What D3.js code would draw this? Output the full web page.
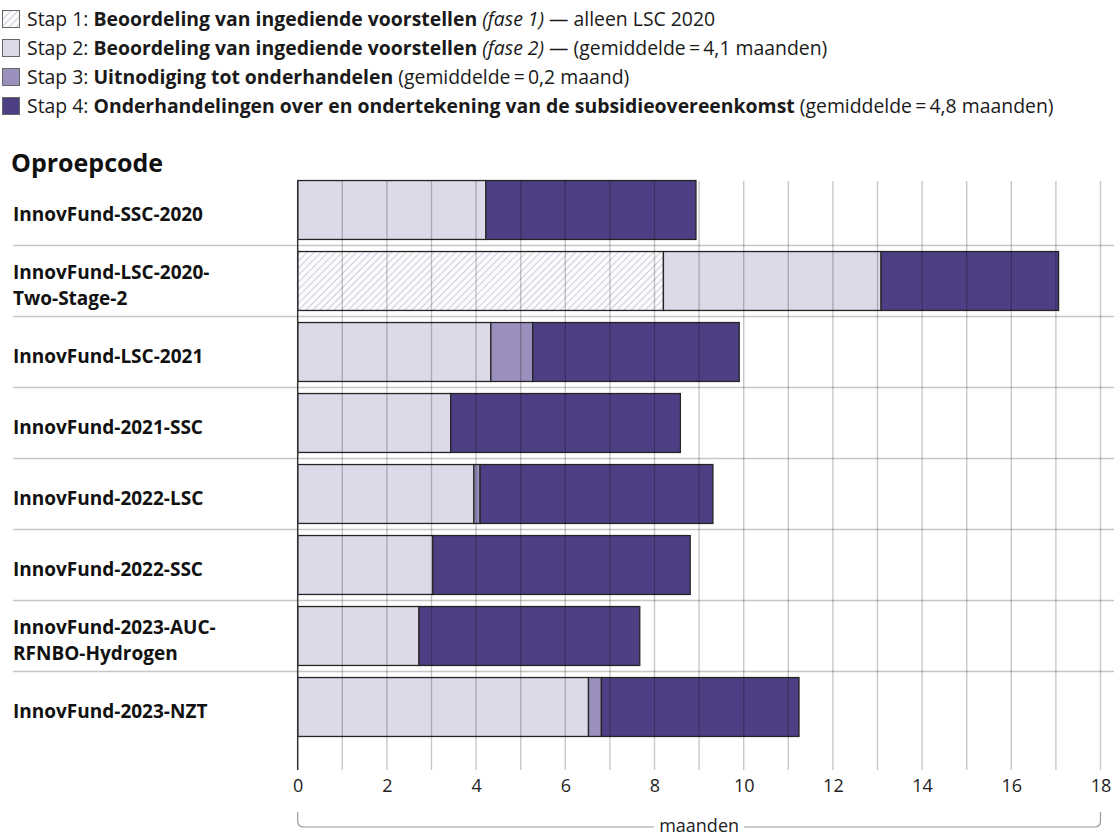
<!DOCTYPE html>
<html>
<head>
<meta charset="utf-8">
<script src="https://cdn.jsdelivr.net/npm/d3@7"></script>
<style>
  body { margin: 0; background: #fff; }
  svg { display: block; font-family: "Open Sans", sans-serif; }
</style>
</head>
<body>
<div id="chart"></div>
<script>
// oproepcodes (rows) and their wrapped labels
const calls = ["SSC-2020", "LSC-2020", "LSC-2021", "2021-SSC", "2022-LSC", "2022-SSC", "2023-AUC", "2023-NZT"];
const callLabels = [
  ["InnovFund-SSC-2020"],
  ["InnovFund-LSC-2020-", "Two-Stage-2"],
  ["InnovFund-LSC-2021"],
  ["InnovFund-2021-SSC"],
  ["InnovFund-2022-LSC"],
  ["InnovFund-2022-SSC"],
  ["InnovFund-2023-AUC-", "RFNBO-Hydrogen"],
  ["InnovFund-2023-NZT"]
];

// months per step
const stap1 = [0, 8.2, 0, 0, 0, 0, 0, 0];
const stap2 = [4.22, 4.88, 4.33, 3.43, 3.95, 3.03, 2.72, 6.52];
const stap3 = [0, 0, 0.94, 0, 0.14, 0, 0, 0.29];
const stap4 = [4.71, 3.98, 4.63, 5.15, 5.22, 5.77, 4.95, 4.43];

const xTicks = [0, 2, 4, 6, 8, 10, 12, 14, 16, 18];
const axisTitle = "maanden";
const rowTitle = "Oproepcode";

const legendItems = [
  [["Stap 1: ", "n"], ["Beoordeling van ingediende voorstellen", "b"], [" ", "n"], ["(fase 1)", "i"], [" \u2014 alleen LSC 2020", "n"]],
  [["Stap 2: ", "n"], ["Beoordeling van ingediende voorstellen", "b"], [" ", "n"], ["(fase 2)", "i"], [" \u2014 (gemiddelde\u2009=\u20094,1 maanden)", "n"]],
  [["Stap 3: ", "n"], ["Uitnodiging tot onderhandelen", "b"], [" (gemiddelde\u2009=\u20090,2 maand)", "n"]],
  [["Stap 4: ", "n"], ["Onderhandelingen over en ondertekening van de subsidieovereenkomst", "b"], [" (gemiddelde\u2009=\u20094,8 maanden)", "n"]]
];

const width = 1114, height = 836;
const keys = ["s1", "s2", "s3", "s4"];
const colors = { s1: "url(#hatch)", s2: "#dcd9e8", s3: "#9a8fbd", s4: "#4e3f84" };

const rows = calls.map((c, i) => ({ call: c, s1: stap1[i], s2: stap2[i], s3: stap3[i], s4: stap4[i] }));

const svg = d3.select("#chart").append("svg")
  .attr("width", width)
  .attr("height", height)
  .attr("viewBox", [0, 0, width, height]);

const defs = svg.append("defs");
const pat = defs.append("pattern")
  .attr("id", "hatch")
  .attr("patternUnits", "userSpaceOnUse")
  .attr("width", 5).attr("height", 5)
  .attr("patternTransform", "rotate(45)");
pat.append("rect").attr("width", 5).attr("height", 5).attr("fill", "#fbfbfd");
pat.append("line").attr("x1", 0).attr("x2", 0).attr("y1", 0).attr("y2", 5)
  .attr("stroke", "#b7b3cc").attr("stroke-width", 1.3);

const x = d3.scaleLinear().domain([0, 18]).range([297.7, 1100.5]);
const y = d3.scaleBand().domain(calls).range([174.5, 742.5]).paddingInner(0.17).paddingOuter(0.085);

const gridTop = 181, gridBottom = 770;

// legend
const legend = svg.append("g").attr("font-size", 19.4).attr("fill", "#1a1a1a");
legendItems.forEach((parts, i) => {
  const cy = 19 + i * 29;
  legend.append("rect")
    .attr("x", 2.5).attr("y", cy - 8.5).attr("width", 17).attr("height", 17)
    .attr("fill", colors[keys[i]]).attr("stroke", "#666").attr("stroke-width", 1);
  const t = legend.append("text").attr("x", 27).attr("y", cy + 6.5);
  parts.forEach(([s, style]) => {
    t.append("tspan")
      .attr("font-weight", style === "b" ? 700 : 400)
      .attr("font-style", style === "i" ? "italic" : "normal")
      .text(s);
  });
});

svg.append("text")
  .attr("x", 11).attr("y", 172)
  .attr("font-size", 25).attr("font-weight", 700).attr("fill", "#111")
  .text(rowTitle);

// row separators
const step = y.step();
svg.append("g")
  .attr("stroke", "#c6c6c6").attr("stroke-width", 1.5)
  .selectAll("line")
  .data(calls.slice(0, -1))
  .join("line")
  .attr("x1", 13).attr("x2", width)
  .attr("y1", d => y(d) + y.bandwidth() + (step - y.bandwidth()) / 2)
  .attr("y2", d => y(d) + y.bandwidth() + (step - y.bandwidth()) / 2);

// row labels
const labels = svg.append("g").attr("font-size", 19).attr("font-weight", 700).attr("fill", "#111");
calls.forEach((c, i) => {
  const lines = callLabels[i];
  const cy = y(c) + y.bandwidth() / 2 + 4;
  lines.forEach((l, j) => {
    labels.append("text").attr("x", 13)
      .attr("y", cy + 7 + (j - (lines.length - 1) / 2) * 26)
      .text(l);
  });
});

// stacked bars
const series = d3.stack().keys(keys)(rows);
svg.append("g")
  .attr("stroke", "#252525").attr("stroke-width", 1.3)
  .selectAll("g")
  .data(series)
  .join("g")
  .attr("fill", d => colors[d.key])
  .selectAll("rect")
  .data(d => d.filter(p => p[1] - p[0] > 0))
  .join("rect")
  .attr("x", d => x(d[0]))
  .attr("y", d => y(d.data.call))
  .attr("width", d => x(d[1]) - x(d[0]))
  .attr("height", y.bandwidth());

// vertical grid, on top of bars
svg.append("g")
  .attr("stroke", "#000").attr("stroke-opacity", 0.22).attr("stroke-width", 1.4)
  .selectAll("line")
  .data(d3.range(1, 19))
  .join("line")
  .attr("x1", d => x(d)).attr("x2", d => x(d))
  .attr("y1", gridTop).attr("y2", gridBottom);

svg.append("line")
  .attr("x1", x(0)).attr("x2", x(0))
  .attr("y1", gridTop).attr("y2", gridBottom)
  .attr("stroke", "#333").attr("stroke-width", 1.5);

// x axis
svg.append("g")
  .attr("transform", `translate(0,${gridBottom})`)
  .call(d3.axisBottom(x).tickValues(xTicks).tickSize(0).tickPadding(9))
  .call(g => g.select(".domain").remove())
  .call(g => g.selectAll("text")
    .attr("font-size", 18).attr("fill", "#222")
    .attr("font-family", "\"Open Sans\", sans-serif"));

// bracket with axis title
const bTop = 812, bBot = 827, r = 6;
const x0 = x(0), x1 = x(18);
svg.append("path")
  .attr("fill", "none").attr("stroke", "#9a9a9a").attr("stroke-width", 1.2)
  .attr("d", `M${x0},${bTop} V${bBot - r} Q${x0},${bBot} ${x0 + r},${bBot} H${x1 - r} Q${x1},${bBot} ${x1},${bBot - r} V${bTop}`);
const mid = (x0 + x1) / 2;
svg.append("rect")
  .attr("x", mid - 45).attr("y", bBot - 8).attr("width", 90).attr("height", 16)
  .attr("fill", "#fff");
svg.append("text")
  .attr("x", mid).attr("y", bBot + 5)
  .attr("text-anchor", "middle")
  .attr("font-size", 18).attr("fill", "#222")
  .text(axisTitle);
</script>
</body>
</html>
